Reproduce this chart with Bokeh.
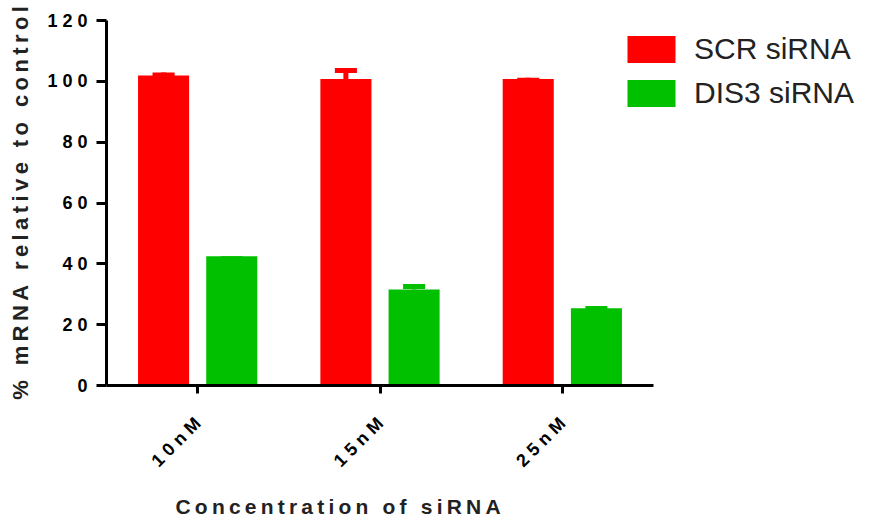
from bokeh.plotting import figure
from bokeh.models import ColumnDataSource, Range1d, Legend, LegendItem, FixedTicker, Title
from bokeh.transform import dodge
from bokeh.embed import file_html
from bokeh.resources import INLINE
import math

# ---- data ----
concentrations = ["10nM", "15nM", "25nM"]
scr_mean = [101.9, 100.8, 100.8]
scr_err = [1.0, 3.6, 0.4]
dis3_mean = [42.5, 31.6, 25.4]
dis3_err = [0.0, 1.8, 0.7]
y_ticks = [0, 20, 40, 60, 80, 100, 120]

TS = "\u2009"  # thin space for letter spacing
NB = "\u00a0"

def spaced(s, sep):
    words = s.split(" ")
    return (sep + " " + sep).join(sep.join(w) for w in words)

RED = "#FF0000"
GREEN = "#00C000"

# category centres on a numeric axis (one unit per category)
xc = [i + 0.5 for i in range(len(concentrations))]
n_cat = len(concentrations)

W, H = 871, 521
LEFT, TOP, RIGHT, BOTTOM = 106, 20, 5, 136
frame_w = W - LEFT - RIGHT
frame_h = H - TOP - BOTTOM
unit_px = 547 / n_cat  # pixels per category on the reference
x_end = frame_w / unit_px

p = figure(frame_width=frame_w, frame_height=frame_h, x_range=Range1d(0, x_end), y_range=Range1d(0, 120),
           output_backend="svg", toolbar_location=None,
           min_border_left=LEFT, min_border_top=TOP, min_border_right=RIGHT, min_border_bottom=BOTTOM)
p.outline_line_color = None
p.xgrid.grid_line_color = None
p.ygrid.grid_line_color = None
p.background_fill_color = "white"
p.border_fill_color = "white"

cap_h = 5 * 120 / 365  # cap thickness (5 px) in data units
src = ColumnDataSource(dict(xc=xc, scr=scr_mean, dis3=dis3_mean,
                            scr_top=[m + e for m, e in zip(scr_mean, scr_err)],
                            dis3_top=[m + e for m, e in zip(dis3_mean, dis3_err)],
                            scr_cap=[m + e - cap_h / 2 for m, e in zip(scr_mean, scr_err)],
                            dis3_cap=[m + e - cap_h / 2 for m, e in zip(dis3_mean, dis3_err)]))

off = 0.187
bw = 0.28
r1 = p.vbar(x=dodge("xc", -off), top="scr", width=bw, bottom=0,
            source=src, fill_color=RED, line_color=None)
r2 = p.vbar(x=dodge("xc", off), top="dis3", width=bw, bottom=0,
            source=src, fill_color=GREEN, line_color=None)

# error bars (upper only)
p.segment(x0=dodge("xc", -off), y0="scr", x1=dodge("xc", -off), y1="scr_top",
          source=src, line_color=RED, line_width=5)
p.rect(x=dodge("xc", -off), y="scr_cap", width=0.121, height=cap_h,
       source=src, fill_color=RED, line_color=None)
p.segment(x0=dodge("xc", off), y0="dis3", x1=dodge("xc", off), y1="dis3_top",
          source=src, line_color=GREEN, line_width=5)
p.rect(x=dodge("xc", off), y="dis3_cap", width=0.121, height=cap_h,
       source=src, fill_color=GREEN, line_color=None)

# axes styling
for ax in (p.xaxis[0], p.yaxis[0]):
    ax.axis_line_width = 3
    ax.axis_line_color = "black"
    ax.major_tick_line_width = 3
    ax.major_tick_line_color = "black"
    ax.minor_tick_line_color = None
    ax.major_tick_in = 0
    ax.major_label_text_font = "Liberation Sans"
    ax.major_label_text_font_style = "bold"
    ax.major_label_text_font_size = "18px"
    ax.major_label_text_color = "black"
    ax.axis_label_text_font = "Liberation Sans"
    ax.axis_label_text_font_style = "bold"
    ax.axis_label_text_font_size = "22px"
    ax.axis_label_text_color = "#222222"

p.yaxis.ticker = FixedTicker(ticks=y_ticks)
p.yaxis.major_tick_out = 10
p.yaxis.major_label_overrides = {t: NB.join(str(t)) for t in y_ticks}
p.yaxis.major_label_standoff = 9
p.yaxis.axis_label = spaced("% mRNA relative to control", TS)
p.yaxis.axis_label_standoff = 11

p.xaxis.bounds = (0, n_cat)
p.xaxis.ticker = FixedTicker(ticks=xc)
p.xaxis.major_tick_out = 8
p.xaxis.major_label_orientation = math.pi / 4
p.xaxis.major_label_overrides = {x: NB.join(c) for x, c in zip(xc, concentrations)}
p.xaxis.major_label_standoff = 27

xtitle = Title(text=spaced("Concentration of siRNA", TS), align="left", offset=69,
               text_font="Liberation Sans", text_font_style="bold", text_font_size="21px",
               text_color="#222222", standoff=25)
p.add_layout(xtitle, "below")

legend = Legend(items=[LegendItem(label="SCR siRNA", renderers=[r1]),
                       LegendItem(label="DIS3 siRNA", renderers=[r2])],
                location=(515, 275))
legend.border_line_color = None
legend.background_fill_alpha = 0
legend.glyph_width = 60
legend.glyph_height = 34
legend.label_text_font = "Liberation Sans"
legend.label_text_font_size = "30px"
legend.label_text_color = "#222222"
legend.label_standoff = 13
legend.spacing = 10
legend.padding = 0
legend.margin = 0
p.add_layout(legend, "center")

open("out.html", "w").write(file_html(p, INLINE))
